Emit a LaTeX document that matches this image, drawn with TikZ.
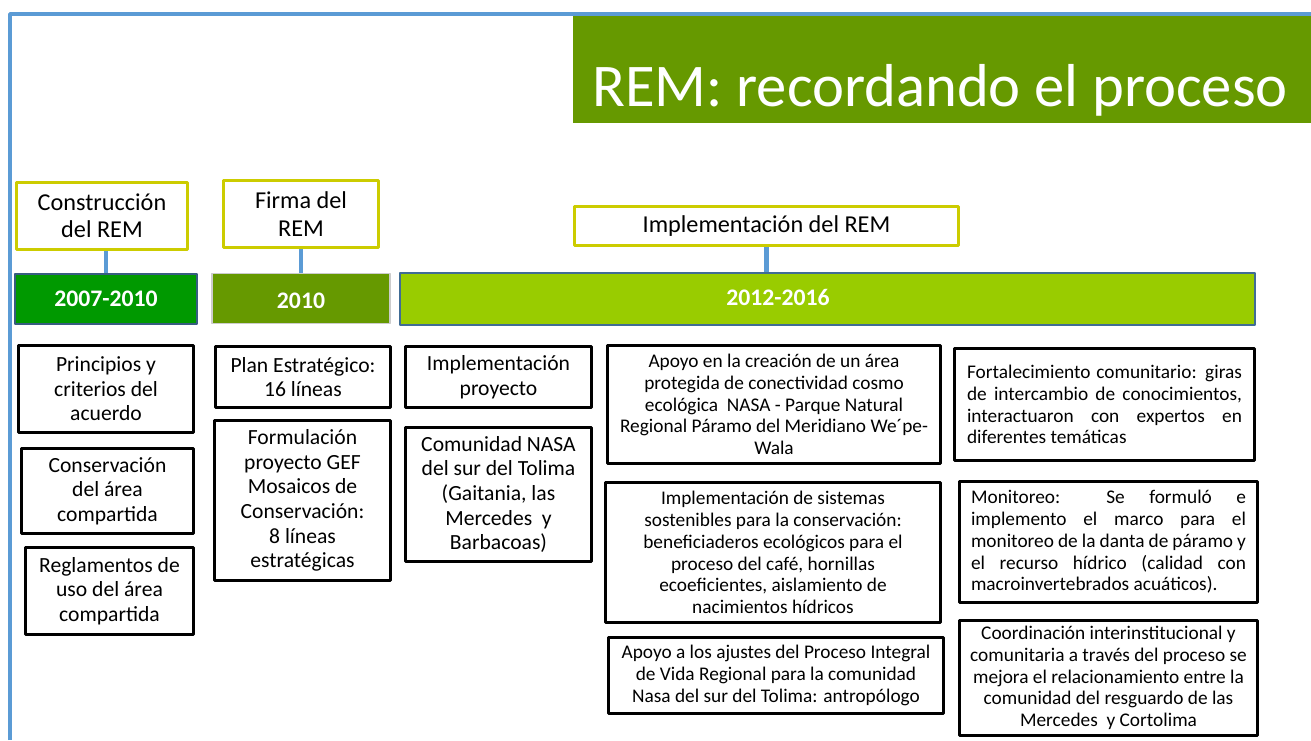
\documentclass[tikz,border=0pt]{standalone}
\usepackage{fontspec}
\setmainfont{Carlito}
\definecolor{frameblue}{HTML}{5B9BD5}
\definecolor{remgreen}{HTML}{669900}
\definecolor{darkgr}{HTML}{009900}
\definecolor{lightgr}{HTML}{99CC00}
\definecolor{hdryellow}{HTML}{CCCC00}
\begin{document}
\begin{tikzpicture}[x=0.02cm,y=-0.02cm,line join=round]
	\tikzset{every node/.style={inner sep=2pt,align=center},
		hdr/.style={draw=hdryellow,line width=2pt,fill=white,font=\fontsize{13.8}{15.5}\selectfont},
		bar/.style={minimum height=1cm,text=white,font=\fontsize{13.5}{15}\selectfont\bfseries},
		box/.style={draw=black,line width=2.2pt,font=\fontsize{12.3}{14}\selectfont},
		sbox/.style={draw=black,line width=2.2pt,font=\fontsize{11}{12.4}\selectfont},
		jbox/.style={sbox,align=justify,text width=5.5cm},
		conn/.style={frameblue,line width=2.8pt}}
	\useasboundingbox (0,0) rectangle (1311,740);
	\fill[white] (0,0) rectangle (1311,740);
	\draw[frameblue,line width=2.2pt] (10,740)--(10,14)--(1311,14);
	\node[fill=remgreen,minimum width=14.76cm,minimum height=2.14cm] (title) at (942,69.5) {};
	\node[text=white,font=\fontsize{34.5}{40}\selectfont] (titletxt) at (940,90) {REM: recordando el proceso};
	\node[hdr,minimum width=3.42cm,minimum height=1.34cm] (hdr1) at (102,216) {Construcción\\del REM};
	\node[hdr,minimum width=3.1cm,minimum height=1.34cm] (hdr2) at (301,214) {Firma del\\REM};
	\node[hdr,minimum width=7.68cm,minimum height=0.78cm] (hdr3) at (766.5,226) {Implementación del REM};
	\node[bar,fill=darkgr,draw=frameblue!60!black,line width=.6pt,minimum width=3.64cm] (bar1) at (106,299) {2007-2010};
	\node[bar,fill=remgreen,draw=gray!40,line width=.6pt,minimum width=3.56cm,text height=2.4ex,text depth=0pt] (bar2) at (301,298.5) {2010};
	\node[bar,fill=lightgr,draw=frameblue!70!black,line width=.8pt,minimum width=17.1cm,minimum height=1.04cm] (bar3) at (827.5,299) {};
	\node[bar,minimum height=0pt] (yr3) at (778,297) {2012-2016};
	\draw[conn] (bar1.north)--(bar1.north |- hdr1.south);
	\draw[conn] (bar2.north)--(bar2.north |- hdr2.south);
	\draw[conn] (hdr3.south)--(hdr3.south |- bar3.north);
	\node[box,minimum width=3.5cm,minimum height=1.74cm] (p1) at (106,389) {Principios y\\criterios del\\acuerdo};
	\node[box,minimum width=3.44cm,minimum height=1.7cm] (p2) at (107.5,491) {Conservación\\del área\\compartida};
	\node[box,minimum width=3.36cm,minimum height=1.74cm] (p3) at (109.5,591) {Reglamentos de\\uso del área\\compartida};
	\node[box,minimum width=3.5cm,minimum height=1.22cm] (f1) at (303,377) {Plan Estratégico:\\16 líneas};
	\node[box,minimum width=3.52cm,minimum height=3.2cm] (f2) at (302.5,500.5) {Formulación\\proyecto GEF\\Mosaicos de\\Conservación:\\8 líneas\\estratégicas};
	\node[box,minimum width=3.72cm,minimum height=1.22cm] (i1) at (498.5,377) {Implementación\\proyecto};
	\node[box,minimum width=3.72cm,minimum height=2.68cm] (i2) at (498.5,494.5) {Comunidad NASA\\del sur del Tolima\\(Gaitania, las\\Mercedes~ y\\Barbacoas)};
	\node[sbox,minimum width=6.66cm,minimum height=2.36cm] (a1) at (774,404.5) {Apoyo en la creación de un área\\protegida de conectividad cosmo\\ecológica~ NASA - Parque Natural\\Regional Páramo del Meridiano We´pe-\\Wala};
	\node[sbox,minimum width=6.7cm,minimum height=2.8cm] (a2) at (773,552.5) {Implementación de sistemas\\sostenibles para la conservación:\\beneficiaderos ecológicos para el\\proceso del café, hornillas\\ecoeficientes, aislamiento de\\nacimientos hídricos};
	\node[sbox,minimum width=6.7cm,minimum height=1.52cm] (a3) at (776,675.5) {Apoyo a los ajustes del Proceso Integral\\de Vida Regional para la comunidad\\Nasa del sur del Tolima: antropólogo};
	\node[jbox,minimum width=6cm,minimum height=2.24cm] (m1) at (1104.5,404.5) {Fortalecimiento comunitario: giras\linebreak de intercambio de conocimientos,\linebreak interactuaron con expertos en\linebreak diferentes temáticas};
	\node[jbox,minimum width=5.96cm,minimum height=2.42cm] (m2) at (1108.5,542) {Monitoreo: Se formuló e\linebreak implemento el marco para el\linebreak monitoreo de la danta de páramo y\linebreak el recurso hídrico (calidad con\linebreak macroinvertebrados acuáticos).};
	\node[sbox,minimum width=5.96cm,minimum height=2.3cm] (m3) at (1108.5,678) {Coordinación interinstitucional y\\comunitaria a través del proceso se\\mejora el relacionamiento entre la\\comunidad del resguardo de las\\Mercedes~ y Cortolima};
\end{tikzpicture}
\end{document}
